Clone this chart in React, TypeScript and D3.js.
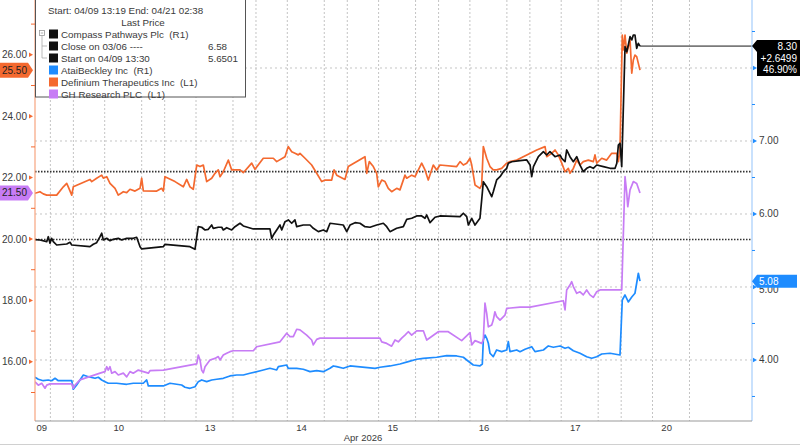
import React from "react";
import * as d3 from "d3";

type P = [number, number];

const dayLabels = ["09", "10", "13", "14", "15", "16", "17", "20"];
const dayLabelTimes = [0.31, 1.155, 2.155, 3.155, 4.155, 5.155, 6.155, 7.155];
const gridTimes = [0.405, 0.657, 1, 1.405, 1.657, 2, 2.405, 2.657, 3, 3.405, 3.657, 4, 4.405, 4.657, 5, 5.405, 5.657, 6, 6.405, 6.657, 7, 7.405];
const leftTicks = [16, 18, 20, 22, 24, 26];
const leftMinor = [15, 17, 19, 21, 23, 25, 27];
const rightTicks = [4, 5, 6, 7, 8];
const rightLabels = [4, 5, 6, 7];
const rightMinor = [3.5, 4.5, 5.5, 6.5, 7.5, 8.5];
const closeRef = 6.58;
const startRef = 5.6501;

const definium: P[] = [[0.237,21.49],[0.291,21.54],[0.327,21.47],[0.365,21.43],[0.474,21.43],[0.547,21.70],[0.584,21.81],[0.601,21.70],[0.639,21.43],[0.656,21.70],[0.839,21.94],[0.858,21.87],[0.912,21.98],[0.967,22.08],[0.985,21.98],[1.022,22.03],[1.058,21.81],[1.113,21.65],[1.149,21.43],[1.204,21.54],[1.241,21.51],[1.277,21.62],[1.332,21.56],[1.387,21.65],[1.405,21.98],[1.423,21.57],[1.570,21.56],[1.624,21.65],[1.642,21.56],[1.660,22.03],[1.770,21.87],[1.861,21.70],[1.898,21.94],[1.934,21.70],[1.970,21.62],[2.008,22.41],[2.044,22.36],[2.080,22.41],[2.117,21.87],[2.172,21.98],[2.208,22.14],[2.244,22.25],[2.263,22.03],[2.299,22.19],[2.354,22.57],[2.391,22.25],[2.482,22.25],[2.518,22.16],[2.610,22.47],[2.646,22.27],[2.737,22.63],[2.847,22.63],[2.884,22.52],[2.975,22.68],[3.011,23.01],[3.048,22.84],[3.084,22.79],[3.120,22.74],[3.139,22.79],[3.194,22.63],[3.267,22.41],[3.322,22.14],[3.377,21.87],[3.413,21.92],[3.486,21.92],[3.512,22.25],[3.541,22.08],[3.632,21.94],[3.668,22.36],[3.851,22.68],[3.870,22.14],[3.898,22.52],[3.942,22.36],[3.979,22.14],[3.997,21.70],[4.034,21.92],[4.070,21.87],[4.106,21.65],[4.143,21.54],[4.198,21.65],[4.234,21.60],[4.289,22.08],[4.308,21.98],[4.363,22.08],[4.399,22.03],[4.472,22.47],[4.508,22.25],[4.544,21.92],[4.599,22.41],[4.636,22.25],[4.672,22.41],[4.855,22.36],[4.892,22.52],[4.928,22.41],[4.965,22.47],[5.001,22.63],[5.020,22.41],[5.056,21.76],[5.110,21.65],[5.129,21.76],[5.147,23.01],[5.184,22.63],[5.220,22.36],[5.256,22.25],[5.293,22.25],[5.348,22.30],[5.403,22.47],[5.439,22.52],[5.513,22.57],[5.623,22.74],[5.732,22.90],[5.823,23.01],[5.841,22.68],[5.896,22.79],[5.932,22.90],[5.968,22.74],[6.006,22.47],[6.042,22.19],[6.078,22.30],[6.096,22.14],[6.133,22.30],[6.170,22.57],[6.206,22.41],[6.242,22.52],[6.297,22.57],[6.352,22.52],[6.370,22.74],[6.389,22.47],[6.444,22.63],[6.498,22.57],[6.553,22.79],[6.609,22.79],[6.626,22.52],[6.644,22.90],[6.669,26.64],[6.680,26.16],[6.699,26.64],[6.718,26.05],[6.735,26.26],[6.754,26.48],[6.773,25.40],[6.790,25.83],[6.808,25.99],[6.827,25.94],[6.863,25.50]];

const compass: P[] = [[0.237,5.65],[0.291,5.644],[0.365,5.621],[0.382,5.689],[0.401,5.599],[0.419,5.667],[0.437,5.621],[0.474,5.575],[0.584,5.589],[0.620,5.612],[0.639,5.575],[0.839,5.552],[0.875,5.585],[0.912,5.607],[0.949,5.689],[0.967,5.736],[0.985,5.644],[1.022,5.667],[1.058,5.634],[1.094,5.653],[1.149,5.667],[1.186,5.644],[1.241,5.667],[1.313,5.667],[1.350,5.681],[1.387,5.552],[1.405,5.521],[1.642,5.552],[1.660,5.585],[1.934,5.552],[1.989,5.516],[2.025,5.826],[2.062,5.818],[2.099,5.781],[2.135,5.790],[2.172,5.849],[2.189,5.804],[2.244,5.818],[2.282,5.818],[2.299,5.781],[2.336,5.812],[2.391,5.781],[2.427,5.826],[2.482,5.873],[2.518,5.836],[2.628,5.795],[2.810,5.795],[2.829,5.667],[2.847,5.712],[2.884,5.781],[2.920,5.849],[2.939,5.781],[2.975,5.895],[3.011,5.918],[3.048,5.873],[3.084,5.918],[3.103,5.826],[3.175,5.849],[3.249,5.849],[3.285,5.804],[3.340,5.758],[3.394,5.781],[3.432,5.758],[3.468,5.873],[3.613,5.849],[3.651,5.758],[3.687,5.849],[3.742,5.881],[3.796,5.873],[3.851,5.826],[3.906,5.818],[3.979,5.849],[4.052,5.873],[4.089,5.826],[4.125,5.758],[4.161,5.781],[4.198,5.804],[4.271,5.826],[4.308,5.927],[4.363,5.941],[4.417,5.973],[4.472,5.973],[4.508,5.941],[4.527,5.986],[4.563,5.881],[4.618,5.955],[4.672,5.973],[4.892,5.963],[4.928,6.010],[4.965,5.963],[4.983,5.849],[5.020,5.941],[5.056,5.849],[5.110,5.941],[5.129,6.192],[5.147,6.442],[5.184,6.374],[5.239,6.237],[5.256,6.305],[5.293,6.466],[5.330,6.511],[5.366,6.579],[5.403,6.626],[5.421,6.695],[5.458,6.716],[5.549,6.730],[5.623,6.740],[5.659,6.671],[5.677,6.511],[5.696,6.648],[5.750,6.785],[5.805,6.853],[5.841,6.808],[5.877,6.853],[5.932,6.785],[5.987,6.808],[6.006,6.763],[6.042,6.716],[6.060,6.877],[6.096,6.785],[6.133,6.716],[6.170,6.785],[6.206,6.671],[6.242,6.579],[6.279,6.626],[6.315,6.648],[6.352,6.626],[6.389,6.671],[6.462,6.648],[6.535,6.626],[6.590,6.626],[6.609,6.695],[6.626,6.945],[6.644,6.969],[6.663,6.648],[6.699,8.292],[6.718,8.223],[6.735,8.315],[6.754,8.429],[6.773,8.384],[6.790,8.452],[6.808,8.452],[6.827,8.270],[6.845,8.338],[6.863,8.30]];

const ghResearch: P[] = [[0.237,15.35],[0.273,15.24],[0.310,15.30],[0.346,15.14],[0.365,15.24],[0.401,15.28],[0.639,15.28],[0.656,15.14],[0.675,15.24],[0.729,15.41],[0.949,15.63],[1.003,15.68],[1.022,15.84],[1.039,15.73],[1.058,15.84],[1.077,15.63],[1.113,15.68],[1.149,15.57],[1.204,15.63],[1.241,15.51],[1.277,15.68],[1.313,15.63],[1.368,15.73],[1.423,15.68],[1.478,15.63],[1.496,15.71],[1.642,15.73],[2.008,15.93],[2.025,16.22],[2.044,16.06],[2.062,15.73],[2.080,15.64],[2.099,15.84],[2.153,16.06],[2.208,16.11],[2.244,16.17],[2.263,16.06],[2.299,16.22],[2.336,16.28],[2.372,16.33],[2.408,16.36],[2.628,16.36],[2.664,16.49],[2.920,16.65],[2.993,16.93],[3.029,16.82],[3.066,16.82],[3.103,17.06],[3.139,17.04],[3.212,16.87],[3.267,16.71],[3.285,16.55],[3.322,16.73],[3.358,16.77],[4.015,16.77],[4.034,16.65],[4.089,16.60],[4.143,16.51],[4.180,16.71],[4.216,16.65],[4.253,16.77],[4.289,16.87],[4.325,16.98],[4.362,16.87],[4.417,17.01],[4.490,17.01],[4.527,16.71],[4.654,16.98],[4.763,16.98],[4.910,16.69],[5.001,16.95],[5.020,16.55],[5.056,16.69],[5.129,16.60],[5.147,16.71],[5.165,17.91],[5.184,17.58],[5.202,17.14],[5.239,17.20],[5.256,17.36],[5.274,17.63],[5.293,17.47],[5.330,17.36],[5.384,17.52],[5.403,17.74],[5.549,17.78],[5.659,17.78],[6.023,17.99],[6.042,17.69],[6.060,18.34],[6.096,18.50],[6.115,18.61],[6.133,18.45],[6.170,18.23],[6.206,18.28],[6.242,18.18],[6.279,18.34],[6.315,18.18],[6.352,18.10],[6.389,18.28],[6.425,18.34],[6.663,18.34],[6.699,22.03],[6.718,21.49],[6.729,21.05],[6.754,21.60],[6.790,21.87],[6.827,21.81],[6.863,21.50]];

const atai: P[] = [[0.237,3.763],[0.273,3.736],[0.327,3.716],[0.382,3.726],[0.419,3.716],[0.456,3.749],[0.492,3.716],[0.639,3.716],[0.656,3.599],[0.693,3.657],[0.766,3.794],[0.820,3.771],[0.894,3.749],[0.930,3.763],[0.967,3.726],[1.003,3.703],[1.039,3.681],[1.131,3.681],[1.241,3.667],[1.313,3.681],[1.423,3.681],[1.460,3.726],[1.478,3.644],[1.642,3.644],[1.715,3.681],[1.843,3.657],[1.879,3.626],[1.934,3.612],[1.989,3.634],[2.025,3.703],[2.062,3.726],[2.117,3.703],[2.172,3.726],[2.227,3.736],[2.299,3.749],[2.372,3.781],[2.446,3.794],[2.518,3.794],[2.591,3.818],[2.737,3.863],[2.810,3.886],[2.884,3.863],[2.902,3.908],[2.993,3.931],[3.011,3.886],[3.103,3.886],[3.175,3.873],[3.249,3.840],[3.322,3.853],[3.394,3.840],[3.468,3.886],[3.504,3.918],[3.541,3.908],[3.613,3.886],[3.687,3.918],[3.961,3.886],[4.015,3.900],[4.125,3.918],[4.234,3.945],[4.325,3.977],[4.417,4.010],[4.490,4.023],[4.636,4.037],[4.746,4.059],[4.855,4.055],[4.928,4.037],[4.965,4.000],[5.037,3.931],[5.110,3.918],[5.136,3.945],[5.147,4.274],[5.165,4.342],[5.184,4.297],[5.202,4.229],[5.220,4.092],[5.256,4.045],[5.293,4.137],[5.348,4.114],[5.403,4.137],[5.421,4.251],[5.439,4.114],[5.513,4.137],[5.549,4.114],[5.604,4.147],[5.677,4.182],[5.713,4.114],[5.805,4.137],[5.859,4.192],[5.914,4.174],[5.987,4.192],[6.042,4.160],[6.078,4.174],[6.133,4.127],[6.206,4.092],[6.279,4.045],[6.334,4.023],[6.389,4.045],[6.444,4.082],[6.535,4.092],[6.644,4.068],[6.669,4.822],[6.699,4.890],[6.735,4.795],[6.773,4.863],[6.808,4.914],[6.845,5.188],[6.863,5.08]];

const ORANGE = "#f4692f";
const BLACK = "#111111";
const BLUE = "#1e8cff";
const PURPLE = "#c77cf5";
const TEXT = "#3a3a3a";
const FONT = "'Liberation Sans', Arial, sans-serif";

export default function App() {
  const left = 35, right = 752, top = 0, bottom = 421;
  const x = d3.scaleLinear().domain([0, 8]).range([13.4, 743.8]);
  const yL = d3.scaleLinear().domain([14.072, 27.785]).range([bottom, top]);
  const yR = d3.scaleLinear().domain([3.164, 8.9315]).range([bottom, top]);
  const lineL = d3.line<P>().x(d => x(d[0])).y(d => yL(d[1]));
  const lineR = d3.line<P>().x(d => x(d[0])).y(d => yR(d[1]));

  const lastC = compass[compass.length - 1];
  const lastA = atai[atai.length - 1];
  const lastD = definium[definium.length - 1];
  const lastG = ghResearch[ghResearch.length - 1];
  const chg = lastC[1] - startRef;
  const pct = (chg / startRef) * 100;

  const legendRows = [
    { y: 34, color: BLACK, label: "Compass Pathways Plc  (R1)", value: "" },
    { y: 46, color: BLACK, label: "Close on 03/06 ----", value: closeRef.toFixed(2) },
    { y: 58, color: BLACK, label: "Start on 04/09 13:30", value: String(startRef) },
    { y: 70, color: BLUE, label: "AtaiBeckley Inc  (R1)", value: "" },
    { y: 82, color: ORANGE, label: "Definium Therapeutics Inc  (L1)", value: "" },
    { y: 94, color: PURPLE, label: "GH Research PLC  (L1)", value: "" },
  ];

  const leftBadge = (v: number, fill: string) => {
    const y = yL(v);
    return (
      <g key={"lb" + v}>
        <polygon points={`0,${y - 7.5} 28,${y - 7.5} 33,${y} 28,${y + 7.5} 0,${y + 7.5}`} fill={fill} />
        <text x={27} y={y + 3.5} textAnchor="end" fontSize={10} fill="#222">{v.toFixed(2)}</text>
      </g>
    );
  };

  return (
    <svg width={800} height={446} style={{ position: "absolute", left: 0, top: 0, background: "#fff" }} fontFamily={FONT}>
      <defs>
        <clipPath id="plotclip"><rect x={left} y={top} width={right - left} height={bottom - top} /></clipPath>
      </defs>
      <rect x={0} y={0} width={800} height={446} fill="#fff" />
      {gridTimes.map(t => (
        <line key={"g" + t} x1={x(t)} x2={x(t)} y1={top} y2={bottom} stroke="#c4c4c4" strokeWidth={1} strokeDasharray="2 2" />
      ))}
      {rightTicks.map(v => (
        <line key={"h" + v} x1={left} x2={right} y1={yR(v)} y2={yR(v)} stroke="#c4c4c4" strokeWidth={1} strokeDasharray="2 3" />
      ))}
      {[closeRef, startRef].map(v => (
        <line key={"r" + v} x1={left} x2={right} y1={yR(v)} y2={yR(v)} stroke="#333" strokeWidth={1.6} strokeDasharray="1.5 1.5" />
      ))}
      <g clipPath="url(#plotclip)" fill="none" strokeWidth={1.7} strokeLinejoin="round">
        <line x1={x(lastC[0])} x2={right} y1={yR(lastC[1])} y2={yR(lastC[1])} stroke="#7a7a7a" strokeWidth={1.6} />
        <path d={lineR(atai) || ""} stroke={BLUE} />
        <path d={lineL(ghResearch) || ""} stroke={PURPLE} />
        <path d={lineL(definium) || ""} stroke={ORANGE} />
        <path d={lineR(compass) || ""} stroke={BLACK} />
      </g>
      <line x1={left} x2={left} y1={top} y2={bottom} stroke="#f7a47f" strokeWidth={1.2} />
      {leftMinor.map(v => (
        <line key={"lm" + v} x1={left - 4} x2={left} y1={yL(v)} y2={yL(v)} stroke={ORANGE} strokeWidth={1} />
      ))}
      {leftTicks.map(v => (
        <g key={"lt" + v}>
          <polygon points={`${left - 6},${yL(v) - 2.2} ${left - 2},${yL(v)} ${left - 6},${yL(v) + 2.2}`} fill={ORANGE} />
          <text x={left - 8} y={yL(v) + 3.5} textAnchor="end" fontSize={10} fill={TEXT}>{v.toFixed(2)}</text>
        </g>
      ))}
      <line x1={right} x2={right} y1={top} y2={bottom} stroke="#a5cdfb" strokeWidth={1.2} />
      {rightMinor.map(v => (
        <line key={"rm" + v} x1={right} x2={right + 3} y1={yR(v)} y2={yR(v)} stroke={BLUE} strokeWidth={1} />
      ))}
      {rightTicks.map(v => (
        <polygon key={"rt" + v} points={`${right + 1},${yR(v) - 2.2} ${right + 5},${yR(v)} ${right + 1},${yR(v) + 2.2}`} fill={BLUE} />
      ))}
      {rightLabels.map(v => (
        <text key={"rl" + v} x={right + 7} y={yR(v) + (v === 5 ? 6 : 3.5)} fontSize={10} fill={TEXT}>{v.toFixed(2)}</text>
      ))}
      <line x1={left} x2={right} y1={bottom} y2={bottom} stroke="#999" strokeWidth={1.2} />
      {dayLabels.map((d, i) => (
        <text key={"d" + d} x={x(dayLabelTimes[i])} y={bottom + 10} textAnchor="middle" fontSize={9.5} fill={TEXT}>{d}</text>
      ))}
      <text x={363} y={bottom + 20} textAnchor="middle" fontSize={9.5} fill={TEXT}>Apr 2026</text>
      <line x1={0} x2={800} y1={444.5} y2={444.5} stroke="#d0d0d0" strokeWidth={1} />
      {leftBadge(lastD[1], ORANGE)}
      {leftBadge(lastG[1], PURPLE)}
      <g>
        <polygon points={`${right},${yR(lastC[1])} ${right + 5},${yR(lastC[1]) - 6} 800,${yR(lastC[1]) - 6} 800,${yR(lastC[1]) + 30} ${right + 5},${yR(lastC[1]) + 30} ${right + 5},${yR(lastC[1]) + 6}`} fill="#000" />
        <text x={797} y={yR(lastC[1]) + 4} textAnchor="end" fontSize={10} fill="#fff">{lastC[1].toFixed(2)}</text>
        <text x={797} y={yR(lastC[1]) + 15.5} textAnchor="end" fontSize={10} fill="#fff">{"+" + chg.toFixed(4)}</text>
        <text x={797} y={yR(lastC[1]) + 27} textAnchor="end" fontSize={10} fill="#fff">{pct.toFixed(2) + "%"}</text>
      </g>
      <g>
        <polygon points={`${right},${yR(lastA[1])} ${right + 5},${yR(lastA[1]) - 6.5} 797,${yR(lastA[1]) - 6.5} 797,${yR(lastA[1]) + 6.5} ${right + 5},${yR(lastA[1]) + 6.5}`} fill={BLUE} />
        <text x={right + 7} y={yR(lastA[1]) + 3.5} fontSize={10} fill="#fff">{lastA[1].toFixed(2)}</text>
      </g>
      <g>
        <rect x={35.5} y={-1} width={210} height={98} fill="#fff" stroke="#555" strokeWidth={1} />
        <text x={48} y={13.5} fontSize={9.8} fill={TEXT}>Start: 04/09 13:19 End: 04/21 02:38</text>
        <text x={143} y={26} textAnchor="middle" fontSize={9.8} fill={TEXT}>Last Price</text>
        <rect x={39.5} y={30.5} width={5} height={5} fill="#fff" stroke="#999" strokeWidth={0.8} />
        <line x1={40.8} x2={43.2} y1={33} y2={33} stroke="#999" strokeWidth={0.8} />
        <line x1={42} x2={42} y1={35.5} y2={58} stroke="#aaa" strokeWidth={0.8} />
        <line x1={42} x2={47} y1={46} y2={46} stroke="#aaa" strokeWidth={0.8} />
        <line x1={42} x2={47} y1={58} y2={58} stroke="#aaa" strokeWidth={0.8} />
        {legendRows.map(r => (
          <g key={r.label}>
            <rect x={49} y={r.y - 4.5} width={9} height={9} fill={r.color} />
            <text x={61} y={r.y + 3.5} fontSize={9.8} fill={TEXT} style={{ whiteSpace: "pre" }}>{r.label}</text>
            {r.value && <text x={208} y={r.y + 3.5} fontSize={9.8} fill={TEXT}>{r.value}</text>}
          </g>
        ))}
      </g>
    </svg>
  );
}
